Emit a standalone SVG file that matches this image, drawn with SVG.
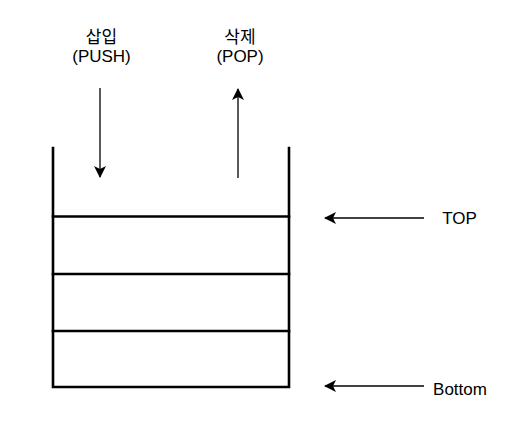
<svg xmlns="http://www.w3.org/2000/svg" width="530" height="430" viewBox="0 0 530 430">
<defs>
<style>
.wall{stroke:#000;stroke-width:2.6;fill:none;stroke-linecap:square}
.arr{stroke:#000;stroke-width:1.3;fill:none}
.t{font-family:"Liberation Sans","Noto Sans CJK KR",sans-serif;font-size:17px;fill:#000;text-anchor:middle}
</style>
<marker id="ah" viewBox="0 0 12 12" refX="11" refY="6" markerWidth="12" markerHeight="12" markerUnits="userSpaceOnUse" orient="auto">
<path d="M0,0 L12,6 L0,12 L3,6 Z" fill="#000"/>
</marker>
</defs>
<rect width="530" height="430" fill="#fff"/>
<g id="stack">
<path class="wall" d="M53,148 V387 H289 V148"/>
<line class="wall" x1="53" y1="216.5" x2="289" y2="216.5"/>
<line class="wall" x1="53" y1="274" x2="289" y2="274"/>
<line class="wall" x1="53" y1="331" x2="289" y2="331"/>
</g>
<g id="push-label">
<text class="t" x="101.5" y="43">삽입</text>
<text class="t" x="101.5" y="61.5">(PUSH)</text>
</g>
<g id="pop-label">
<text class="t" x="240" y="43">삭제</text>
<text class="t" x="240" y="61.5">(POP)</text>
</g>
<g id="top-label"><text class="t" x="459.5" y="224">TOP</text></g>
<g id="bottom-label"><text class="t" x="460" y="394.5">Bottom</text></g>
<g id="connectors">
<line class="arr" x1="100" y1="88" x2="100" y2="177" marker-end="url(#ah)"/>
<line class="arr" x1="238" y1="178" x2="238" y2="89" marker-end="url(#ah)"/>
<line class="arr" x1="424" y1="218" x2="325" y2="218" marker-end="url(#ah)"/>
<line class="arr" x1="424" y1="386" x2="325" y2="386" marker-end="url(#ah)"/>
</g>
</svg>
